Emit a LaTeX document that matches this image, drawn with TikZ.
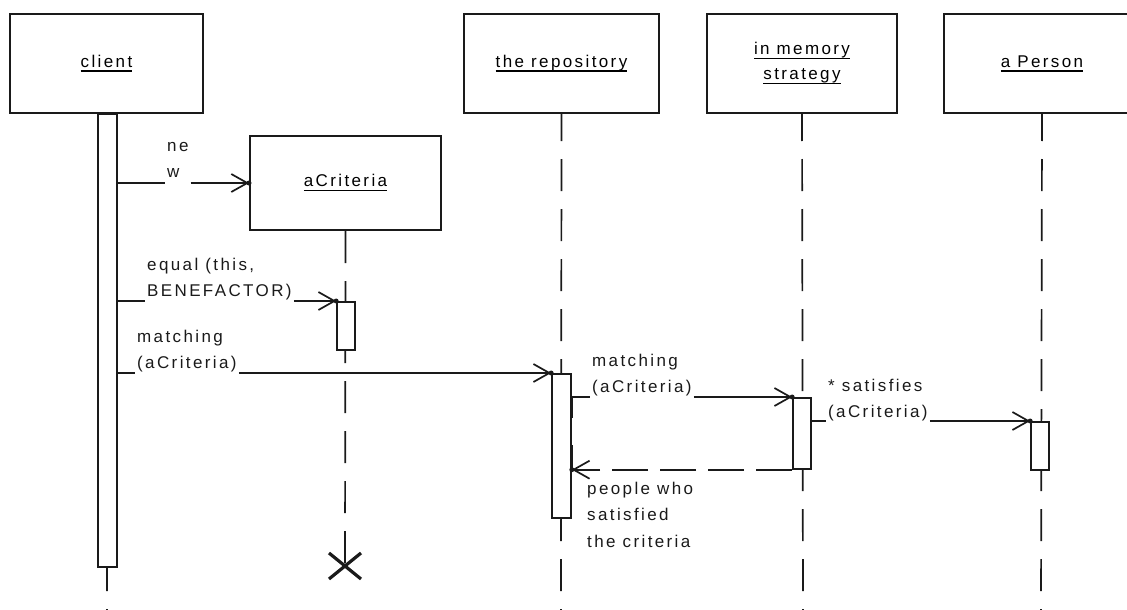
\documentclass[tikz,border=0pt]{standalone}
\usepackage{fontspec}
\setmainfont{Liberation Sans}[LetterSpace=14]
\usetikzlibrary{arrows.meta,calc}
\definecolor{ink}{HTML}{1A1A1A}
\newsavebox\ulbox
\newcommand\ulx[1]{\sbox\ulbox{#1}\rlap{\rule[-4.5pt]{\wd\ulbox}{1.8pt}}\usebox\ulbox}
\newcommand\stt{\rule[-6pt]{0pt}{20pt}}
\tikzset{
  x=1pt, y=-1pt,
  obj/.style={draw=ink, line width=2pt, fill=white, minimum width=193pt, minimum height=99pt, inner sep=0pt, align=center, font=\fontsize{17pt}{25pt}\selectfont},
  actbar/.style={draw=ink, line width=1.7pt, fill=white, minimum width=18pt, inner sep=0pt, anchor=north},
  life/.style={draw=ink, line width=1.7pt, dash pattern=on 32pt off 18pt},
  ln/.style={draw=ink, line width=1.7pt},
  msg/.style={ln, -{Straight Barb[length=16pt,width=18pt,line width=1.7pt]}},
  ret/.style={msg, dash pattern=on 36pt off 12pt},
  lbl/.style={inner xsep=2pt, inner ysep=0pt, align=left, anchor=north west, text=ink, font=\fontsize{17pt}{26.5pt}\selectfont},
  tipdot/.style={fill=ink},
}
\begin{document}
\begin{tikzpicture}
\useasboundingbox (0,0) rectangle (1127,610);
\clip (0,0) rectangle (1127,610);

% object boxes
\node[obj] (client) at (106.5,63.5) {\ulx{client}};
\node[obj, minimum width=191pt, minimum height=94pt] (acr) at (345.5,183) {\ulx{aCriteria}};
\node[obj, minimum width=195pt] (repo) at (561.5,63.5) {\ulx{the repository}};
\node[obj, minimum width=190pt] (mem) at (802,63.5) {\ulx{in memory}\\\ulx{strategy}};
\node[obj, minimum width=196pt] (pers) at (1042,63.5) {\ulx{a Person}};

% lifeline ends
\coordinate (cend) at (107,612);
\coordinate (xm) at (345,566);
\coordinate (rend) at (561,612);
\coordinate (mend) at (803,612);
\coordinate (pend) at (1041,612);

% lifelines
\draw[life, dash phase=5pt] (client.south) -- (cend);
\draw[life] (acr.south) -- (xm);
\draw[life, dash phase=5pt] (repo.south) -- (rend);
\draw[life, dash phase=5pt] (mem.south) -- (mend);
\draw[life, dash phase=5pt] (pers.south) -- (pend);

% destruction mark
\draw[ink, line width=3.2pt] ($(xm)+(-16,-13)$) -- ($(xm)+(16,13)$);
\draw[ink, line width=3.2pt] ($(xm)+(-16,13)$) -- ($(xm)+(16,-13)$);

% activation bars
\node[actbar, minimum width=19pt, minimum height=453pt] (cbar) at (107.5,113) {};
\node[actbar, minimum height=48pt] (abar) at (346,301) {};
\node[actbar, minimum width=19pt, minimum height=144pt] (rbar) at (561.5,373) {};
\node[actbar, minimum height=71pt] (mbar) at (802,397) {};
\node[actbar, minimum height=48pt] (pbar) at (1040,421) {};

% thick marks on repository bar
\draw[ink, line width=3.2pt] (rbar.east |- 0,397) -- (rbar.east |- 0,418);
\draw[ink, line width=3.2pt] (rbar.east |- 0,445) -- (rbar.east |- 0,468);

% labels
\node[lbl] (lnew) at (165,137) {\stt ne\\\stt w};
\node[lbl] (leq) at (145,256) {\stt equal (this,\\\stt BENEFACTOR)};
\node[lbl] (lm1) at (135,328) {\stt matching\\\stt (aCriteria)};
\node[lbl] (lm2) at (590,352) {\stt matching\\\stt (aCriteria)};
\node[lbl] (lsat) at (826,377) {\stt * satisfies\\\stt (aCriteria)};
\node[lbl] (lret) at (585,480) {\stt people who\\\stt satisfied\\\stt the criteria};

% messages
\draw[ln] (cbar.east |- acr.west) -- (lnew.west |- acr.west);
\draw[msg] (lnew.east |- acr.west) -- (acr.west);
\fill[tipdot] (acr.west) circle (2.5pt);

\draw[ln] (cbar.east |- abar.north) -- (leq.west |- abar.north);
\draw[msg] (leq.east |- abar.north) -- (abar.north west);
\fill[tipdot] (abar.north west) circle (2.5pt);

\draw[ln] (cbar.east |- rbar.north) -- (lm1.west |- rbar.north);
\draw[msg] (lm1.east |- rbar.north) -- (rbar.north west);
\fill[tipdot] (rbar.north west) circle (2.5pt);

\draw[ln] (rbar.east |- mbar.north) -- (lm2.west |- mbar.north);
\draw[msg] (lm2.east |- mbar.north) -- (mbar.north west);
\fill[tipdot] (mbar.north west) circle (2.5pt);

\draw[ln] (mbar.east |- pbar.north) -- (lsat.west |- pbar.north);
\draw[msg] (lsat.east |- pbar.north) -- (pbar.north west);
\fill[tipdot] (pbar.north west) circle (2.5pt);

\draw[ret] (mbar.south west) -- (rbar.east |- mbar.south);
\fill[tipdot] (rbar.east |- mbar.south) circle (2.5pt);
\end{tikzpicture}
\end{document}
